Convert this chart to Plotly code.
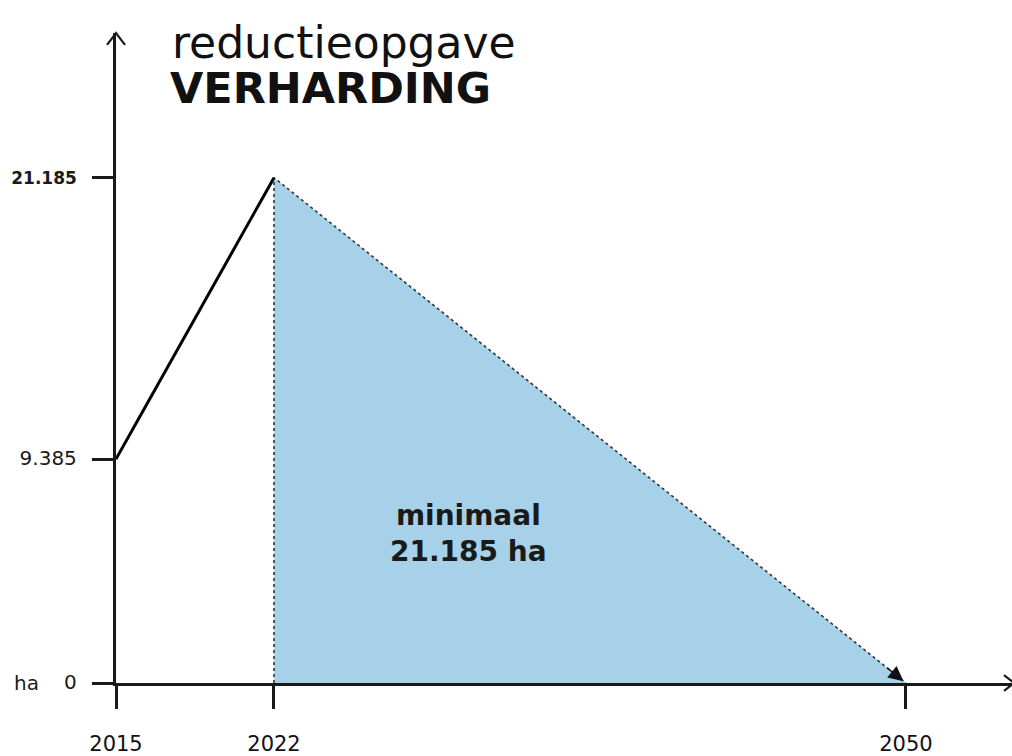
import plotly.graph_objects as go

# --- data ---
years = [2015, 2022, 2050]
growth_years = [2015, 2022]
growth_values = [9385, 21185]
reduction_years = [2022, 2022, 2050]
reduction_values = [0, 21185, 0]
ytick_vals = [0, 9385, 21185]
ytick_text = ["0", "9.385", "21.185"]
xtick_text = ["2015", "2022", "2050"]
title_line1 = "reductieopgave"
title_line2 = "VERHARDING"
center_label = "minimaal<br>21.185 ha"

W, H = 1012, 756
L, R, T, B = 116, 0, 33, 67
pw, ph = W - L - R, H - T - B
px_per_year = 22.57
px_per_unit = 510 / 21185
x_max = years[0] + pw / px_per_year
y_max = ph / px_per_unit

FONT = "DejaVu Sans"
INK = "#1a1a1a"

fig = go.Figure()
fig.add_trace(go.Scatter(
    x=reduction_years, y=reduction_values, fill="toself",
    fillcolor="#A7D0E9", line=dict(width=0), mode="lines",
    hoverinfo="skip", showlegend=False))
fig.add_trace(go.Scatter(
    x=reduction_years, y=reduction_values, mode="lines",
    line=dict(color="#333333", width=1.6, dash="dot"),
    hoverinfo="skip", showlegend=False))
fig.add_trace(go.Scatter(
    x=growth_years, y=growth_values, mode="lines",
    line=dict(color="#000000", width=3),
    hoverinfo="skip", showlegend=False))

def px_to_paper(px, py):
    return (px - L) / pw, (H - B - py) / ph

shapes = []
tx, ty = px_to_paper(116, 33)
ax1, ay1 = px_to_paper(107, 45)
ax2, ay2 = px_to_paper(125, 45)
shapes.append(dict(type="path", xref="paper", yref="paper",
                   path=f"M {ax1},{ay1} L {tx},{ty} L {ax2},{ay2}",
                   line=dict(color=INK, width=2.2)))
rx, ry = px_to_paper(1014, 689)
bx1, by1 = px_to_paper(1004, 681)
bx2, by2 = px_to_paper(1004, 697)
shapes.append(dict(type="path", xref="paper", yref="paper",
                   path=f"M {bx1},{by1} L {rx},{ry} L {bx2},{by2}",
                   line=dict(color=INK, width=2.2)))

ticktext_styled = []
for t in ytick_text:
    if t == "21.185":
        ticktext_styled.append("<b>" + t + "</b>")
    else:
        ticktext_styled.append('<span style="font-size:20px">' + t + "</span>")

annotations = [
    dict(text=title_line1, xref="paper", yref="paper",
         x=(170 - L) / pw, y=(H - B - 43) / ph, xanchor="left", yanchor="middle",
         showarrow=False, font=dict(family=FONT, size=44, color="#111111")),
    dict(text="<b>" + title_line2 + "</b>", xref="paper", yref="paper",
         x=(168 - L) / pw, y=(H - B - 89) / ph, xanchor="left", yanchor="middle",
         showarrow=False, font=dict(family=FONT, size=43, color="#111111")),
    dict(text="<b>" + center_label + "</b>", x=2030.6, y=6250,
         showarrow=False, font=dict(family=FONT, size=28, color="#1a1a1a"),
         align="center"),
    dict(text="ha", xref="paper", yref="paper", x=(12 - L) / pw, y=0,
         xanchor="left", yanchor="middle", showarrow=False,
         font=dict(family=FONT, size=20, color=INK)),
    dict(x=years[2], y=0, ax=-20, ay=-16, text="", showarrow=True,
         arrowhead=2, arrowsize=2, arrowwidth=1.5, arrowcolor="#111111",
         standoff=3),
]

fig.update_layout(
    width=W, height=H,
    margin=dict(l=L, r=R, t=T, b=B, pad=0),
    paper_bgcolor="white", plot_bgcolor="white",
    shapes=shapes, annotations=annotations,
    xaxis=dict(range=[years[0], x_max], showgrid=False, zeroline=False,
               showline=True, linecolor=INK, linewidth=2.5,
               ticks="outside", ticklen=23, tickwidth=2.5, tickcolor=INK,
               tickvals=years, ticktext=xtick_text, ticklabelstandoff=17,
               tickfont=dict(family=FONT, size=21, color="#111111"), fixedrange=True),
    yaxis=dict(range=[0, y_max], showgrid=False, zeroline=False,
               showline=True, linecolor=INK, linewidth=2.5,
               ticks="outside", ticklen=21, tickwidth=2.5, tickcolor=INK,
               tickvals=ytick_vals, ticktext=ticktext_styled, ticklabelstandoff=12,
               tickfont=dict(family=FONT, size=17, color=INK), fixedrange=True),
)

fig.write_html("out.html", config={"displayModeBar": False},
               post_script="document.body.style.margin='0';document.body.style.overflow='hidden';")
